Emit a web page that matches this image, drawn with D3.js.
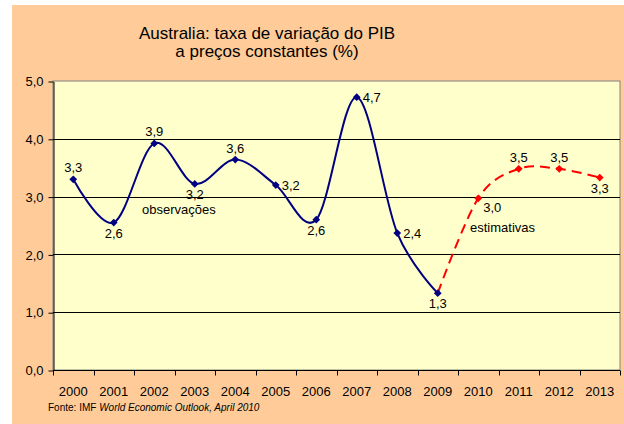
<!DOCTYPE html>
<html>
<head>
<meta charset="utf-8">
<script src="https://cdn.jsdelivr.net/npm/d3@7"></script>
<style>
  body { margin: 0; background: #fff; }
  svg { display: block; font-family: "Liberation Sans", Arial, sans-serif; }
</style>
</head>
<body>
<svg id="chart" width="624" height="424"></svg>
<script>
var years = ['2000', '2001', '2002', '2003', '2004', '2005', '2006', '2007', '2008', '2009', '2010', '2011', '2012', '2013'];
var observedYears = ['2000', '2001', '2002', '2003', '2004', '2005', '2006', '2007', '2008', '2009'];
var observedValues = [3.3, 2.55, 3.92, 3.22, 3.64, 3.2, 2.6, 4.72, 2.37, 1.33];
var observedLabels = ['3,3', '2,6', '3,9', '3,2', '3,6', '3,2', '2,6', '4,7', '2,4', '1,3'];
var observedLabelPos = ['above', 'below', 'above', 'below', 'above', 'right', 'below', 'right', 'right', 'below'];
var estimateYears = ['2009', '2010', '2011', '2012', '2013'];
var estimateValues = [1.33, 2.97, 3.48, 3.48, 3.33];
var estimateLabels = [null, '3,0', '3,5', '3,5', '3,3'];
var estimateLabelPos = [null, 'belowright', 'above', 'above', 'below'];
var yTicks = [0, 1, 2, 3, 4, 5];

var svg = d3.select('#chart');
var plot = { left: 53, top: 81, right: 620, bottom: 370 };

svg.append('rect')
    .attr('x', 12).attr('y', 5)
    .attr('width', 612).attr('height', 419)
    .attr('fill', '#FFCC99');

svg.append('rect')
    .attr('x', plot.left).attr('y', plot.top)
    .attr('width', plot.right - plot.left).attr('height', plot.bottom - plot.top)
    .attr('fill', '#FFFFCC')
    .attr('stroke', '#808080')
    .attr('stroke-width', 1);

var x = d3.scaleBand().domain(years).range([plot.left, plot.right]);
var y = d3.scaleLinear().domain([0, 5]).range([plot.bottom, plot.top]);

function cx(yr) { return x(yr) + x.bandwidth() / 2; }

// gridlines
svg.append('g')
    .selectAll('line')
    .data(yTicks.filter(function (d) { return d > 0 && d < 5; }))
    .enter().append('line')
    .attr('x1', plot.left).attr('x2', plot.right)
    .attr('y1', function (d) { return Math.round(y(d)) + 0.5; })
    .attr('y2', function (d) { return Math.round(y(d)) + 0.5; })
    .attr('stroke', '#000')
    .attr('stroke-width', 1);

// y axis
var yAxis = svg.append('g')
    .attr('transform', 'translate(' + (plot.left + 0.5) + ',0.5)')
    .call(d3.axisLeft(y).tickValues(yTicks).tickSize(5).tickSizeOuter(0)
        .tickFormat(function (d) { return d3.format('.1f')(d).replace('.', ','); }));
yAxis.select('.domain').attr('stroke', '#000');
yAxis.selectAll('text').attr('font-size', 13).attr('fill', '#000').attr('dx', -2)
    .attr('font-family', '"Liberation Sans", Arial, sans-serif');

// x axis
var xAxis = svg.append('g')
    .attr('transform', 'translate(0,' + (plot.bottom + 0.5) + ')');
xAxis.append('line')
    .attr('x1', plot.left).attr('x2', plot.right)
    .attr('stroke', '#000');
xAxis.selectAll('line.tick')
    .data(years.concat(['end']))
    .enter().append('line')
    .attr('class', 'tick')
    .attr('x1', function (d, i) { return Math.round(plot.left + i * x.bandwidth()) + 0.5; })
    .attr('x2', function (d, i) { return Math.round(plot.left + i * x.bandwidth()) + 0.5; })
    .attr('y1', 0).attr('y2', 5)
    .attr('stroke', '#000');
xAxis.selectAll('text')
    .data(years)
    .enter().append('text')
    .attr('x', function (d) { return cx(d); })
    .attr('y', 25)
    .attr('text-anchor', 'middle')
    .attr('font-size', 13)
    .text(function (d) { return d; });

// lines
var line = d3.line()
    .x(function (d) { return cx(d[0]); })
    .y(function (d) { return y(d[1]); })
    .curve(d3.curveCardinal.tension(0));

svg.append('path')
    .datum(d3.zip(estimateYears, estimateValues))
    .attr('d', line)
    .attr('fill', 'none')
    .attr('stroke', '#FF0000')
    .attr('stroke-width', 2)
    .attr('stroke-dasharray', '10,6');

svg.append('path')
    .datum(d3.zip(observedYears, observedValues))
    .attr('d', line)
    .attr('fill', 'none')
    .attr('stroke', '#000080')
    .attr('stroke-width', 2);

var diamond = d3.symbol().type(d3.symbolSquare).size(30);

function drawMarkers(yrs, vals, color, skipFirst) {
    svg.append('g')
        .selectAll('path')
        .data(d3.zip(yrs, vals).slice(skipFirst ? 1 : 0))
        .enter().append('path')
        .attr('d', diamond)
        .attr('transform', function (d) { return 'translate(' + cx(d[0]) + ',' + y(d[1]) + ') rotate(45)'; })
        .attr('fill', color);
}
drawMarkers(observedYears, observedValues, '#000080', false);
drawMarkers(estimateYears, estimateValues, '#FF0000', true);

function drawLabels(yrs, vals, labels, pos) {
    svg.append('g')
        .selectAll('text')
        .data(d3.range(yrs.length).filter(function (i) { return labels[i]; }))
        .enter().append('text')
        .attr('font-size', 13)
        .attr('fill', '#000')
        .attr('text-anchor', function (i) { return pos[i] === 'right' || pos[i] === 'belowright' ? 'start' : 'middle'; })
        .attr('x', function (i) {
            var p = cx(yrs[i]);
            if (pos[i] === 'right') return p + 6;
            if (pos[i] === 'belowright') return p + 5;
            return p;
        })
        .attr('y', function (i) {
            var p = y(vals[i]);
            if (pos[i] === 'above') return p - 7;
            if (pos[i] === 'below') return p + 15;
            if (pos[i] === 'belowright') return p + 14;
            return p + 5;
        })
        .text(function (i) { return labels[i]; });
}
drawLabels(observedYears, observedValues, observedLabels, observedLabelPos);
drawLabels(estimateYears, estimateValues, estimateLabels, estimateLabelPos);

svg.append('text')
    .attr('x', 142).attr('y', 214)
    .attr('font-size', 13)
    .text('observações');

svg.append('text')
    .attr('x', 470).attr('y', 232)
    .attr('font-size', 13)
    .text('estimativas');

// title
var title = svg.append('text')
    .attr('text-anchor', 'middle')
    .attr('font-size', 17);
title.append('tspan').attr('x', 267).attr('y', 39).text('Australia: taxa de variação do PIB');
title.append('tspan').attr('x', 267).attr('y', 57).text('a preços constantes (%)');

// source
var source = svg.append('text')
    .attr('x', 48).attr('y', 411)
    .attr('font-size', 10);
source.append('tspan').text('Fonte: IMF ');
source.append('tspan').attr('font-style', 'italic').text('World Economic Outlook, April 2010');
</script>
</body>
</html>
